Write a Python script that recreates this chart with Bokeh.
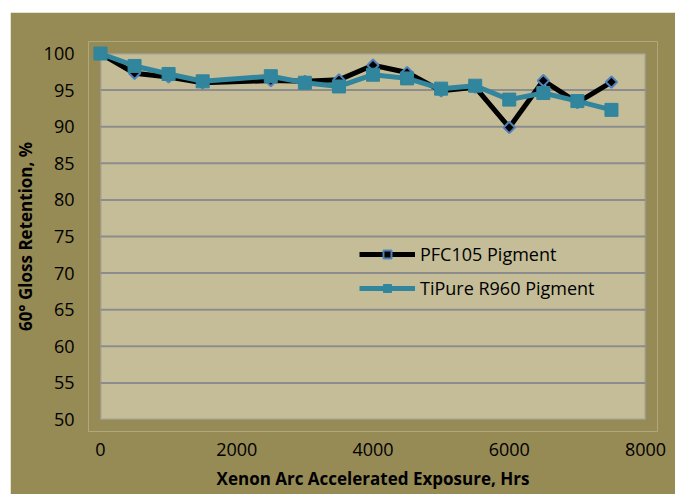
import math
from bokeh.plotting import figure
from bokeh.models import Range1d, FixedTicker, BoxAnnotation, Legend, LegendItem, ColumnDataSource
from bokeh.embed import file_html
from bokeh.resources import INLINE

# ---- data ----
hours = [0, 500, 1000, 1500, 2500, 3000, 3500, 4000, 4500, 5000, 5500, 6000, 6500, 7000, 7500]
pfc105 = [100, 97.3, 96.8, 96.0, 96.3, 96.2, 96.4, 98.4, 97.4, 94.9, 95.4, 89.9, 96.3, 93.3, 96.1]
tipure = [100, 98.3, 97.2, 96.2, 96.9, 96.0, 95.5, 97.1, 96.6, 95.2, 95.6, 93.7, 94.6, 93.5, 92.3]
x_ticks = [0, 2000, 4000, 6000, 8000]
y_ticks = [50, 55, 60, 65, 70, 75, 80, 85, 90, 95, 100]
series_names = ["PFC105 Pigment", "TiPure R960 Pigment"]
x_title = "Xenon Arc Accelerated Exposure, Hrs"
y_title = "60° Gloss Retention, %"

OLIVE = "#968A55"
TAN = "#C4BD98"
GRID = "#8C8C8C"
TEAL = "#31859C"
BLUE = "#4F81BD"
FONT = "Open Sans"

x_lo, x_hi = x_ticks[0], x_ticks[-1]
y_lo, y_hi = y_ticks[0], y_ticks[-1]
x_pad = (x_hi - x_lo) / 546 * 12
y_pad = (y_hi - y_lo) / 366 * 12

p = figure(width=665, height=482, output_backend="svg", toolbar_location=None,
           x_range=Range1d(x_lo - x_pad, x_hi + x_pad),
           y_range=Range1d(y_lo - y_pad, y_hi + y_pad),
           min_border_left=77, min_border_right=18, min_border_top=29, min_border_bottom=63,
           margin=(12, 0, 0, 10))
p.background_fill_color = OLIVE
p.border_fill_color = OLIVE
p.outline_line_color = None
p.xgrid.visible = False
p.ygrid.visible = False

# plot area
p.add_layout(BoxAnnotation(left=x_lo, right=x_hi, bottom=y_lo, top=y_hi,
                           fill_color=TAN, fill_alpha=1, line_color=GRID,
                           line_width=3, level="underlay"))
# gridlines
grid_src = ColumnDataSource(dict(y=y_ticks[1:-1], x0=[x_lo] * (len(y_ticks) - 2),
                                 x1=[x_hi] * (len(y_ticks) - 2)))
p.segment(x0="x0", x1="x1", y0="y", y1="y", source=grid_src, line_color=GRID, line_width=2)

src = ColumnDataSource(dict(x=hours, a=pfc105, b=tipure))
l1 = p.line("x", "a", source=src, line_color="black", line_width=5)
s1 = p.scatter("x", "a", source=src, marker="square", size=8, angle=math.pi / 4,
               fill_color="black", line_color=BLUE, line_width=2)
l2 = p.line("x", "b", source=src, line_color=TEAL, line_width=5)
s2 = p.scatter("x", "b", source=src, marker="square", size=13,
               fill_color=TEAL, line_color=TEAL, line_width=1)

# axes
for ax in (p.xaxis[0], p.yaxis[0]):
    ax.axis_line_color = None
    ax.major_tick_line_color = None
    ax.minor_tick_line_color = None
    ax.major_label_text_font = FONT
    ax.major_label_text_font_size = "18px"
    ax.major_label_text_color = "black"
    ax.axis_label_text_font = FONT
    ax.axis_label_text_font_size = "17px"
    ax.axis_label_text_font_style = "bold"
    ax.axis_label_text_color = "black"

p.xaxis.ticker = FixedTicker(ticks=x_ticks)
p.yaxis.ticker = FixedTicker(ticks=y_ticks)
p.xaxis.axis_label = x_title
p.yaxis.axis_label = y_title
p.xaxis.major_label_standoff = 5
p.yaxis.major_label_standoff = 8
p.xaxis.axis_label_standoff = 8
p.yaxis.axis_label_standoff = 4

legend = Legend(items=[LegendItem(label=series_names[0], renderers=[l1, s1]),
                       LegendItem(label=series_names[1], renderers=[l2, s2])],
                location=(271, 131), glyph_width=56, glyph_height=20, label_standoff=5,
                spacing=10, padding=0, margin=0, border_line_color=None,
                background_fill_alpha=0, label_text_font=FONT, label_text_font_size="18px",
                label_text_color="black")
p.add_layout(legend)

open("out.html", "w").write(file_html(p, INLINE))
